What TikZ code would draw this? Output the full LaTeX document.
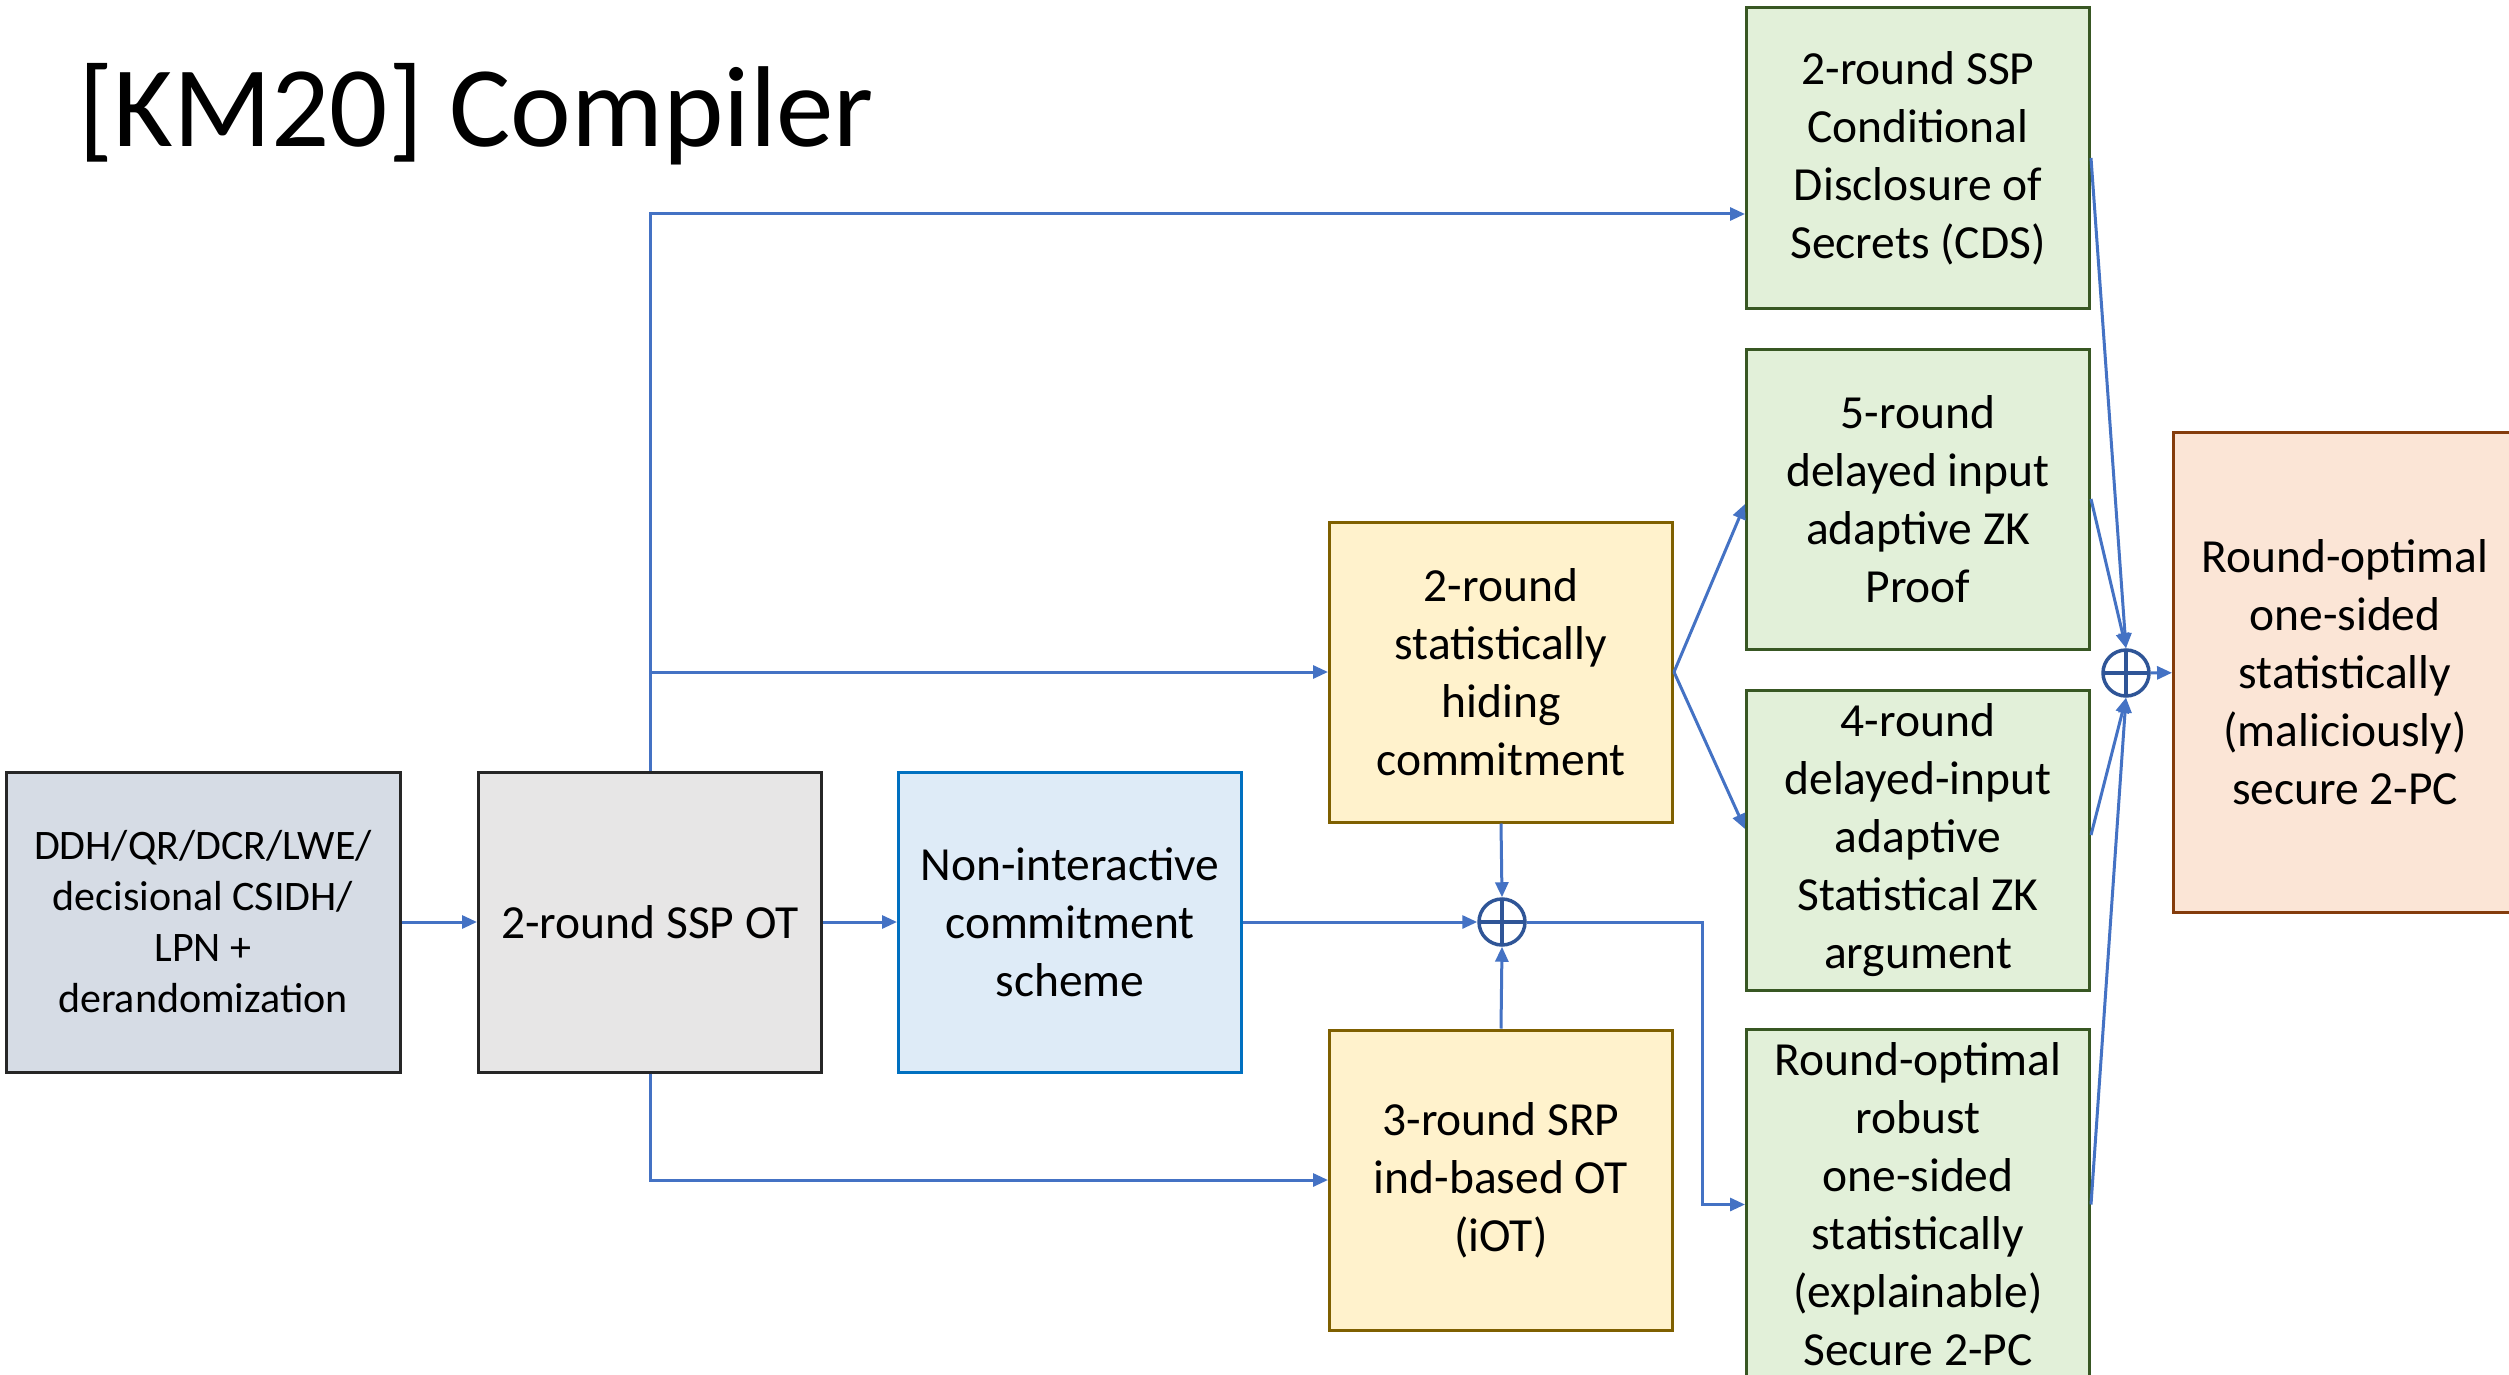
\documentclass[tikz,border=0pt]{standalone}
\usepackage{fontspec}
\setmainfont{Carlito}
\usetikzlibrary{arrows.meta,calc}
\definecolor{arrowblue}{HTML}{4472C4}
\definecolor{circblue}{HTML}{2F5597}
\definecolor{afill}{HTML}{D6DCE5}
\definecolor{bfill}{HTML}{E7E6E6}
\definecolor{darkedge}{HTML}{262626}
\definecolor{cfill}{HTML}{DEEBF7}
\definecolor{cedge}{HTML}{0070C0}
\definecolor{yfill}{HTML}{FFF2CC}
\definecolor{yedge}{HTML}{7F6000}
\definecolor{gfill}{HTML}{E2F0D9}
\definecolor{gedge}{HTML}{385723}
\definecolor{ofill}{HTML}{FBE5D6}
\definecolor{oedge}{HTML}{843C0C}
\begin{document}
\begin{tikzpicture}[x=1pt,y=-1pt,
  box/.style={draw, line width=3pt, minimum width=343pt, minimum height=300pt,
    inner sep=0pt, align=center, font=\fontsize{47.5}{58}\selectfont},
  greybox/.style={box, fill=bfill, draw=darkedge},
  yellowbox/.style={box, fill=yfill, draw=yedge},
  greenbox/.style={box, fill=gfill, draw=gedge},
  conn/.style={draw=arrowblue, line width=3pt, -{Triangle[length=15pt,width=13pt]}},
  oplus/.style={circle, draw=circblue, line width=3.5pt, minimum size=46pt, inner sep=0pt,
    path picture={\draw[circblue,line width=3.5pt]
      (path picture bounding box.north) -- (path picture bounding box.south)
      (path picture bounding box.west) -- (path picture bounding box.east);}}
]
\useasboundingbox (0,0) rectangle (2509,1375);
\clip (0,0) rectangle (2509,1375);
\fill[white] (0,0) rectangle (2509,1375);

\node[anchor=base west, inner sep=0pt, font=\fontsize{115}{138}\selectfont] (title) at (78,147) {[KM20] Compiler};

\node[box, fill=afill, draw=darkedge, minimum width=394pt, font=\fontsize{42}{51}\selectfont] (A) at (203,922)
  {DDH/QR/DCR/LWE/\\decisional CSIDH/\\LPN +\\derandomization};
\node[greybox] (B) at (650,922) {2-round SSP OT};
\node[box, fill=cfill, draw=cedge] (C) at (1070,922) {Non-interactive\\commitment\\scheme};
\node[yellowbox] (D) at (1501,672) {2-round\\statistically\\hiding\\commitment};
\node[yellowbox] (E) at (1501,1180) {3-round SRP\\ind-based OT\\(iOT)};
\node[greenbox] (F) at (1918,158) {2-round SSP\\Conditional\\Disclosure of\\Secrets (CDS)};
\node[greenbox] (G) at (1918,499) {5-round\\delayed input\\adaptive ZK\\Proof};
\node[greenbox] (H) at (1918,840) {4-round\\delayed-input\\adaptive\\Statistical ZK\\argument};
\node[greenbox, minimum height=351pt] (I) at (1918,1204.5) {Round-optimal\\robust\\one-sided\\statistically\\(explainable)\\Secure 2-PC};
\node[box, fill=ofill, draw=oedge, minimum height=480pt] (J) at (2345,672) {Round-optimal\\one-sided\\statistically\\(maliciously)\\secure 2-PC};

\node[oplus] (O1) at (1502,922) {};
\node[oplus] (O2) at (2126,673) {};

\draw[conn] (A) -- (B);
\draw[conn] (B) -- (C);
\draw[conn] (C) -- (O1);
\draw[conn] (B.north) |- ([yshift=-56pt]F.west);
\draw[conn] (B.north |- D.west) -- (D.west);
\draw[conn] (B.south) |- (E.west);
\draw[conn] (D.south) -- (O1.north);
\draw[conn] (E.north) -- (O1.south);
\draw[conn] (O1.east) -- ([xshift=-43pt]I.west |- O1.east) |- (I.west);
\draw[conn] (D.east) -- ([yshift=-5pt]G.west);
\draw[conn] (D.east) -- ([yshift=11pt]H.west);
\draw[conn] (F.east) -- (O2.north);
\draw[conn] (G.east) -- (O2.north);
\draw[conn] ([yshift=5pt]H.east) -- (O2.south);
\draw[conn] (I.east) -- (O2.south);
\draw[conn] (O2) -- (J);
\end{tikzpicture}
\end{document}
